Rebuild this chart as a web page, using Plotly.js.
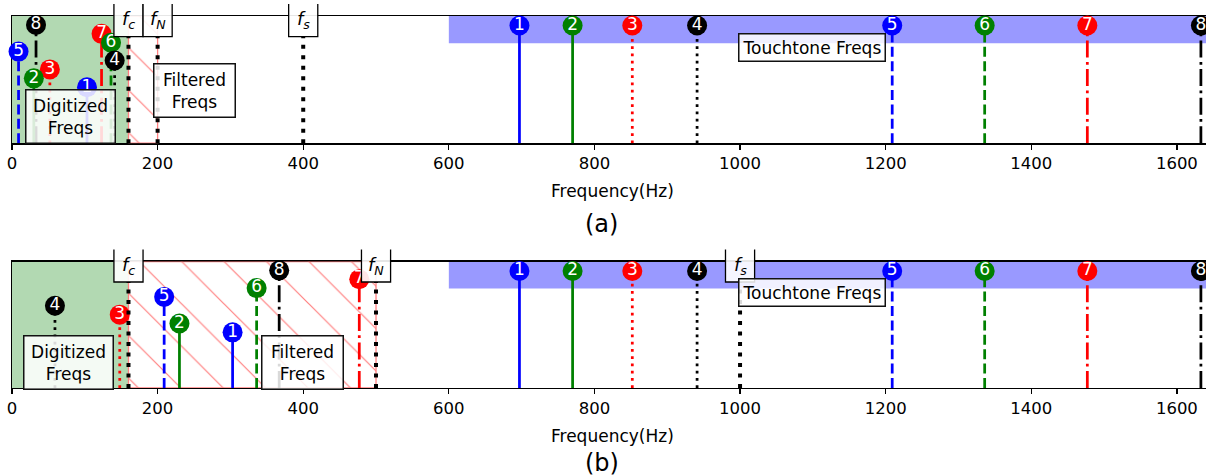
<!DOCTYPE html>
<html><head><meta charset="utf-8">
<script src="https://cdn.plot.ly/plotly-3.0.1.min.js"></script>
<style>html,body{margin:0;padding:0;background:#fff}#chart{width:1206px;height:476px}</style>
</head><body><div id="chart"></div>
<script>
// ---- data ----
const digitLabels  = ['1', '2', '3', '4', '5', '6', '7', '8'];
const toneFreqs    = [697, 770, 852, 941, 1209, 1336, 1477, 1633];
const toneHeights  = [0.925, 0.925, 0.925, 0.925, 0.925, 0.925, 0.925, 0.925];
const aliasHeights = [0.44, 0.51, 0.58, 0.65, 0.72, 0.79, 0.86, 0.93];
const aliasFreqsA  = [103, 30, 52, 141, 9, 136, 123, 33];     // sampled at fs = 400 Hz
const aliasFreqsB  = [303, 230, 148, 59, 209, 336, 477, 367];  // sampled at fs = 1000 Hz
const cutoffFreq   = 160;
const sampleFreqs  = [400, 1000];
const nyquistFreqs = [200, 500];
const bandStart    = 600;
const bandEnd      = 1700;
const tickValues   = [0, 200, 400, 600, 800, 1000, 1200, 1400, 1600];
const panelLabels  = ['(a)', '(b)'];

// ---- styles ----
const FONT = 'DejaVu Sans';
const XMAX = 1640;
const stemColors = ['#0000ff', '#008000', '#ff0000', '#000000', '#0000ff', '#008000', '#ff0000', '#000000'];
const DOT = '2.75px,4.5px', DASH = '10px,4.4px', DASHDOT = '17px,4.4px,2.75px,4.4px';
const stemDashes = ['solid', 'solid', DOT, DOT, DASH, DASH, DASHDOT, DASHDOT];
const hatchColor = '#ff8080';

const panels = [
  {xa: 'x',  ya: 'y',  alias: aliasFreqsA, fs: sampleFreqs[0], fn: nyquistFreqs[0], dom: [0.658, 1],
   digit: [80.7, 0.207], filt: [250.3, 0.415], tone: [1099.5, 0.753], freqY: 0.53, labY: 0.441},
  {xa: 'x2', ya: 'y2', alias: aliasFreqsB, fs: sampleFreqs[1], fn: nyquistFreqs[1], dom: [0, 0.34],
   digit: [77.6, 0.201], filt: [398.6, 0.201], tone: [1098.5, 0.757], freqY: -0.128, labY: -0.2006}
];

const traces = [];
const shapes = [];
const annotations = [];

function stem(p, f, h, i) {
  traces.push({
    type: 'scatter', x: [f, f], y: [0, h], xaxis: p.xa, yaxis: p.ya,
    mode: 'lines+markers+text',
    line: {color: stemColors[i], width: 2.75, dash: stemDashes[i]},
    marker: {size: [0, 20], color: stemColors[i], opacity: 1, line: {width: 0}},
    text: ['', digitLabels[i]], textposition: 'middle center',
    textfont: {family: FONT, size: 17, color: '#ffffff'},
    hoverinfo: 'skip', showlegend: false, cliponaxis: false
  });
}

panels.forEach((p, pi) => {
  const span = p.dom[1] - p.dom[0];
  const py = v => p.dom[0] + v * span;

  // filtered (hatched) region
  traces.push({
    type: 'scatter', xaxis: p.xa, yaxis: p.ya,
    x: [cutoffFreq, p.fn, p.fn, cutoffFreq, cutoffFreq], y: [0, 0, 1, 1, 0],
    mode: 'lines', fill: 'toself', fillcolor: 'rgba(0,0,0,0)',
    line: {color: hatchColor, width: 1.3},
    fillpattern: {shape: '\\', fgcolor: hatchColor, bgcolor: 'rgba(0,0,0,0)', size: 30, solidity: 0.04, fillmode: 'replace'},
    hoverinfo: 'skip', showlegend: false
  });

  for (let i = 7; i >= 0; i--) stem(p, toneFreqs[i], toneHeights[i], i);
  for (let i = 7; i >= 0; i--) stem(p, p.alias[i], aliasHeights[i], i);

  // fc, fN, fs reference lines
  [cutoffFreq, p.fn, p.fs].forEach(f => {
    traces.push({
      type: 'scatter', x: [f, f], y: [0, 0.84], xaxis: p.xa, yaxis: p.ya, mode: 'lines',
      line: {color: '#000000', width: 4, dash: '4px,6.5px'}, hoverinfo: 'skip', showlegend: false
    });
  });

  // digitized (green) region and touchtone band
  shapes.push({type: 'rect', xref: p.xa, yref: p.ya, x0: 0, x1: cutoffFreq, y0: 0, y1: 1,
    fillcolor: 'rgba(0,128,0,0.3)', line: {width: 0}, layer: 'below'});
  shapes.push({type: 'rect', xref: p.xa, yref: p.ya, x0: bandStart, x1: bandEnd, y0: 0.786, y1: 1,
    fillcolor: 'rgba(0,0,255,0.4)', line: {width: 0}, layer: 'below'});

  // label boxes for fc, fN, fs (top edge clipped like the reference)
  const labs = [[cutoffFreq, 'c'], [p.fn, 'N'], [p.fs, 's']];
  labs.forEach(([f, sub]) => {
    const x0 = (f - 20) / XMAX, x1 = (f + 20) / XMAX;
    const yb = py(0.838), yt = py(1.095);
    shapes.push({type: 'path', xref: 'paper', yref: 'paper',
      path: `M${x0},${yt} L${x0},${yb} L${x1},${yb} L${x1},${yt}`,
      fillcolor: 'rgba(255,255,255,0.9)', line: {color: '#000000', width: 1.3}, layer: 'above'});
    annotations.push({xref: p.xa, yref: 'paper', x: f, y: py(0.965), showarrow: false,
      text: `<i>f</i><sub><i>${sub}</i></sub>`, font: {family: FONT, size: 18, color: '#000'},
      xanchor: 'center', yanchor: 'middle'});
  });

  const boxStyle = {showarrow: false, bgcolor: 'rgba(255,255,255,0.85)', bordercolor: '#111',
    borderwidth: 1.5, font: {family: FONT, size: 17, color: '#000'}, xanchor: 'center', yanchor: 'middle'};
  annotations.push(Object.assign({}, boxStyle, {xref: p.xa, yref: p.ya, x: p.digit[0], y: p.digit[1],
    text: 'Digitized<br>Freqs', borderpad: 5, width: 78}));
  annotations.push(Object.assign({}, boxStyle, {xref: p.xa, yref: p.ya, x: p.filt[0], y: p.filt[1],
    text: 'Filtered<br>Freqs', borderpad: 5, width: 70}));
  annotations.push(Object.assign({}, boxStyle, {xref: p.xa, yref: p.ya, x: p.tone[0], y: p.tone[1],
    text: 'Touchtone Freqs', borderpad: 3}));

  annotations.push({xref: 'paper', yref: 'paper', x: 0.5026, y: p.freqY, showarrow: false,
    text: 'Frequency(Hz)', font: {family: FONT, size: 17, color: '#000'}, xanchor: 'center', yanchor: 'middle'});
  annotations.push({xref: 'paper', yref: 'paper', x: 0.494, y: p.labY, showarrow: false,
    text: panelLabels[pi], font: {family: FONT, size: 24, color: '#000'}, xanchor: 'center', yanchor: 'middle'});
});

const xaxisBase = {
  range: [0, XMAX], tickvals: tickValues, ticktext: tickValues.map(String),
  ticks: 'outside', ticklen: 5, tickwidth: 1.3, tickcolor: '#000',
  showline: true, linecolor: '#000', linewidth: 1.3, mirror: true,
  showgrid: false, zeroline: false, layer: 'below traces', fixedrange: true,
  tickfont: {family: FONT, size: 16.5, color: '#000'}
};
const yaxisBase = {
  range: [0, 1], showticklabels: false, ticks: '', showline: true, linecolor: '#000',
  linewidth: 1.3, mirror: true, showgrid: false, zeroline: false, layer: 'below traces', fixedrange: true
};

const layout = {
  width: 1206, height: 476,
  margin: {l: 12, r: 0, t: 16, b: 88},
  paper_bgcolor: '#ffffff', plot_bgcolor: 'rgba(0,0,0,0)',
  showlegend: false,
  font: {family: FONT, color: '#000'},
  xaxis: Object.assign({}, xaxisBase, {anchor: 'y', domain: [0, 1]}),
  yaxis: Object.assign({}, yaxisBase, {anchor: 'x', domain: panels[0].dom}),
  xaxis2: Object.assign({}, xaxisBase, {anchor: 'y2', domain: [0, 1]}),
  yaxis2: Object.assign({}, yaxisBase, {anchor: 'x2', domain: panels[1].dom}),
  shapes: shapes,
  annotations: annotations
};

Plotly.newPlot('chart', traces, layout, {displayModeBar: false, staticPlot: true});
</script>
</body></html>
